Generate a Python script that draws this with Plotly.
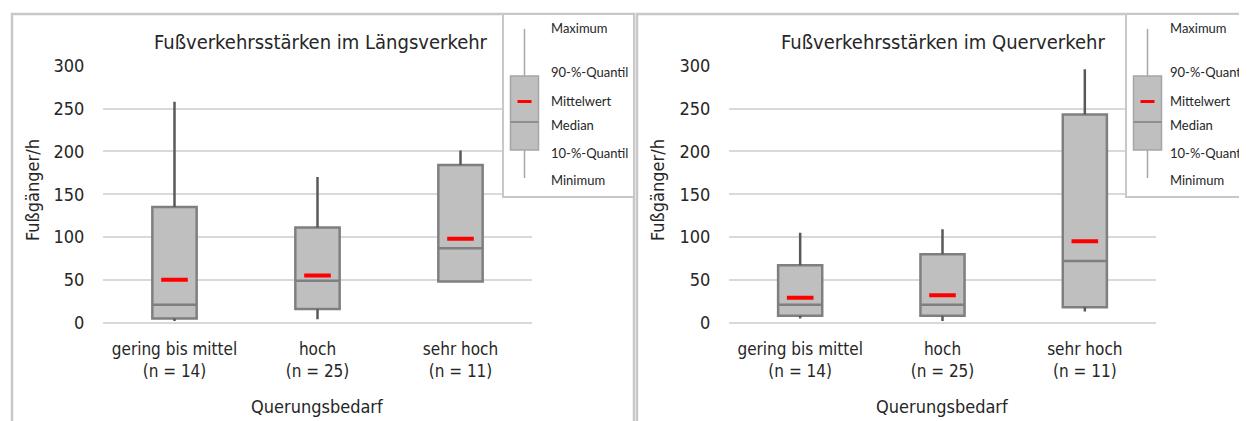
# Fußverkehrsstärken – Boxplots Längs-/Querverkehr

import plotly.graph_objects as go

# the page puts the figure 8 px in from the top-left corner
OFF = 8
W, H = 1247 - OFF, 421 - OFF

categories = ["gering bis mittel<br>(n = 14)", "hoch<br>(n = 25)", "sehr hoch<br>(n = 11)"]

# Längsverkehr
laengs_min = [2, 4, 48]
laengs_q10 = [5, 16, 48]
laengs_median = [21, 49, 87]
laengs_q90 = [135, 111, 184]
laengs_max = [258, 170, 201]
laengs_mean = [50, 55, 98]

# Querverkehr
quer_min = [5, 2, 13]
quer_q10 = [8, 8, 18]
quer_median = [21, 21, 72]
quer_q90 = [67, 80, 243]
quer_max = [105, 109, 296]
quer_mean = [29, 32, 95]

legend_labels = ["Maximum", "90-%-Quantil", "Mittelwert", "Median", "10-%-Quantil", "Minimum"]

NARROW = "Liberation Sans Narrow, Arial Narrow, DejaVu Sans Condensed, sans-serif"
KEYFONT = "Lato, Carlito, Open Sans, sans-serif"
TXT = "#262626"
BOX_FILL = "#bfbfbf"
BOX_LINE = "#7f7f7f"
WHISKER = "#595959"
GRID = "#d9d9d9"


def px(x):
    return (x - OFF) / W


def py(y):
    return 1 - (y - OFF) / H


fig = go.Figure()


def add_panel(n, mins, q10, med, q90, maxs, means):
    xa = "x" if n == 1 else f"x{n}"
    ya = "y" if n == 1 else f"y{n}"
    # whiskers: min -> 10 % and 90 % -> max
    wx, wy = [], []
    for c, lo, b, t, hi in zip(categories, mins, q10, q90, maxs):
        wx += [c, c, None, c, c, None]
        wy += [lo, b, None, t, hi, None]
    fig.add_trace(go.Scatter(x=wx, y=wy, mode="lines", line=dict(color=WHISKER, width=2.5),
                             hoverinfo="skip", xaxis=xa, yaxis=ya, showlegend=False))
    fig.add_trace(go.Box(x=categories, q1=q10, median=med, q3=q90, lowerfence=q10, upperfence=q90,
                         fillcolor=BOX_FILL, line=dict(color=BOX_LINE, width=2.5), width=0.31,
                         whiskerwidth=0, xaxis=xa, yaxis=ya, showlegend=False))
    fig.add_trace(go.Scatter(x=categories, y=means, mode="markers",
                             marker=dict(symbol="line-ew", size=19, line=dict(color="#ff0000", width=4)),
                             xaxis=xa, yaxis=ya, showlegend=False))


add_panel(1, laengs_min, laengs_q10, laengs_median, laengs_q90, laengs_max, laengs_mean)
add_panel(2, quer_min, quer_q10, quer_median, quer_q90, quer_max, quer_mean)

ydom = [py(322.7), py(65.7)]
xdoms = [[px(103), px(532)], [px(729), px(1156)]]

axis_y = dict(range=[0, 300], tickvals=[0, 50, 100, 150, 200, 250, 300], showgrid=True,
              gridcolor=GRID, gridwidth=2, zeroline=True, zerolinecolor=GRID, zerolinewidth=2,
              showline=False, ticks="outside", ticklen=14, tickcolor="rgba(0,0,0,0)",
              tickfont=dict(family=NARROW, size=18, color=TXT), domain=ydom, fixedrange=True,
              automargin=False)
axis_x = dict(range=[-0.5, 2.5], showgrid=False, zeroline=False, showline=False, ticks="outside",
              ticklen=11, tickcolor="rgba(0,0,0,0)", tickfont=dict(family=NARROW, size=17, color=TXT),
              fixedrange=True, automargin=False)

fig.update_layout(
    width=W, height=H,
    margin=dict(l=0, r=0, t=0, b=0, autoexpand=False),
    paper_bgcolor="white", plot_bgcolor="white",
    xaxis=dict(axis_x, domain=xdoms[0], anchor="y"),
    yaxis=dict(axis_y, anchor="x"),
    xaxis2=dict(axis_x, domain=xdoms[1], anchor="y2"),
    yaxis2=dict(axis_y, anchor="x2"),
)

shapes = []
annotations = []

# panel frames
shapes.append(dict(type="rect", xref="paper", yref="paper", x0=px(12), x1=px(634), y0=py(440), y1=py(14),
                   line=dict(color="#c8c8c8", width=2.5), layer="below"))
shapes.append(dict(type="rect", xref="paper", yref="paper", x0=px(637), x1=px(1270), y0=py(440), y1=py(14),
                   line=dict(color="#c8c8c8", width=2.5), layer="below"))

titles = ["Fußverkehrsstärken im Längsverkehr", "Fußverkehrsstärken im Querverkehr"]
title_x = [321, 943]
ytitle_x = [33, 658]
plot_mid = [(103 + 532) / 2, (729 + 1156) / 2]

for i in range(2):
    annotations.append(dict(text=titles[i], x=px(title_x[i]), y=py(42), xref="paper", yref="paper",
                            showarrow=False, xanchor="center", yanchor="middle",
                            font=dict(family=NARROW, size=20, color=TXT)))
    annotations.append(dict(text="Fußgänger/h", x=px(ytitle_x[i]), y=py(190), xref="paper", yref="paper",
                            showarrow=False, textangle=-90, xanchor="center", yanchor="middle",
                            font=dict(family=NARROW, size=18, color=TXT)))
    annotations.append(dict(text="Querungsbedarf", x=px(plot_mid[i]), y=py(406), xref="paper", yref="paper",
                            showarrow=False, xanchor="center", yanchor="middle",
                            font=dict(family=NARROW, size=18, color=TXT)))

# key boxes (legend graphic)
key_left = [503, 1126]
key_right = [634, 1270]
key_cx = [524.5, 1147.5]
key_text_x = [549, 1168]
label_y = [28, 72, 101, 125, 153, 180]
for i in range(2):
    shapes.append(dict(type="rect", xref="paper", yref="paper", x0=px(key_left[i]), x1=px(key_right[i]),
                       y0=py(197), y1=py(14), line=dict(color="#c8c8c8", width=2), fillcolor="white"))
    cx = key_cx[i]
    shapes.append(dict(type="line", xref="paper", yref="paper", x0=px(cx), x1=px(cx), y0=py(178), y1=py(29),
                       line=dict(color="#a6a6a6", width=1.5)))
    shapes.append(dict(type="rect", xref="paper", yref="paper", x0=px(cx - 14), x1=px(cx + 14),
                       y0=py(150), y1=py(76), line=dict(color="#a6a6a6", width=1.5), fillcolor=BOX_FILL))
    shapes.append(dict(type="line", xref="paper", yref="paper", x0=px(cx - 14), x1=px(cx + 14),
                       y0=py(122), y1=py(122), line=dict(color=BOX_LINE, width=1.5)))
    shapes.append(dict(type="line", xref="paper", yref="paper", x0=px(cx - 7), x1=px(cx + 7),
                       y0=py(101.5), y1=py(101.5), line=dict(color="#ff0000", width=3)))
    for lab, ly in zip(legend_labels, label_y):
        annotations.append(dict(text=lab, x=px(key_text_x[i]), y=py(ly), xref="paper", yref="paper",
                                showarrow=False, xanchor="left", yanchor="middle",
                                font=dict(family=KEYFONT, size=13, color=TXT)))

fig.update_layout(shapes=shapes, annotations=annotations)

fig.write_html("out.html")
